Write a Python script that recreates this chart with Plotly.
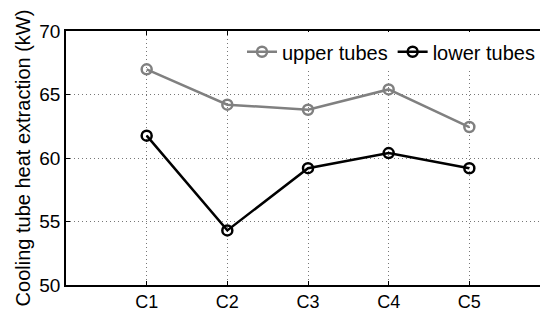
import plotly.graph_objects as go

categories = ["C1", "C2", "C3", "C4", "C5"]
upper_tubes = [66.98, 64.2, 63.8, 65.4, 62.44]
lower_tubes = [61.76, 54.3, 59.2, 60.39, 59.19]
x_pos = [1, 2, 3, 4, 5]

FONT = "Liberation Sans, Arial, sans-serif"

fig = go.Figure()
fig.add_trace(go.Scatter(x=x_pos, y=upper_tubes, name="upper tubes", mode="lines+markers",
                         line=dict(color="#808080", width=2.5),
                         marker=dict(symbol="circle-open", size=10, color="#808080", line=dict(width=2.5))))
fig.add_trace(go.Scatter(x=x_pos, y=lower_tubes, name="lower tubes", mode="lines+markers",
                         line=dict(color="#000000", width=2.5),
                         marker=dict(symbol="circle-open", size=10, color="#000000", line=dict(width=2.5))))

axis_common = dict(showline=True, linecolor="#000000", linewidth=1.5, automargin=False,
                   ticks="inside", ticklen=4, tickcolor="#000000",
                   showgrid=True, gridcolor="#777777", griddash="1px,3px", gridwidth=1,
                   zeroline=False)

fig.update_xaxes(range=[0, 5.876], tickvals=x_pos, ticktext=categories, mirror="ticks",
                 tickfont=dict(family=FONT, size=18, color="#000"), **axis_common)
fig.update_yaxes(range=[50, 70], tickvals=[50, 55, 60, 65, 70], mirror=False,
                 tickfont=dict(family=FONT, size=19, color="#000"),
                 title=dict(text="Cooling tube heat extraction (kW)",
                            font=dict(family=FONT, size=20, color="#000"), standoff=3),
                 **axis_common)

fig.update_layout(width=540, height=312, margin=dict(l=66, r=0, t=31, b=27),
                  plot_bgcolor="white", paper_bgcolor="white",
                  font=dict(family=FONT, size=19, color="#000"),
                  showlegend=True,
                  legend=dict(orientation="h", x=1, xanchor="right", y=0.995, yanchor="top",
                              bgcolor="white", borderwidth=0,
                              font=dict(family=FONT, size=20), tracegroupgap=0))

fig.write_html("out.html", config={"displayModeBar": False},
               post_script="document.body.style.margin='0';document.body.style.overflow='hidden';")
